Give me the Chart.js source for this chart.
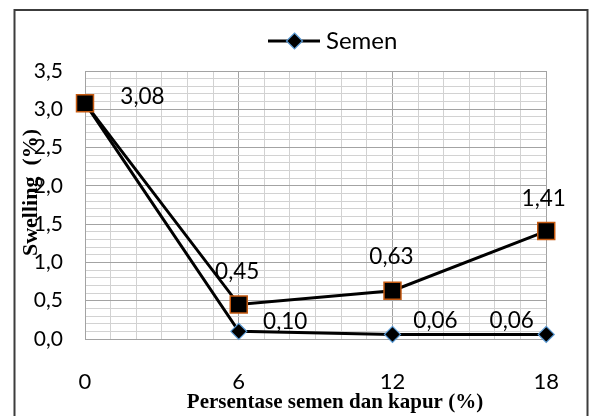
<!DOCTYPE html>
<html>
<head>
<meta charset="utf-8">
<script src="https://cdn.jsdelivr.net/npm/chart.js@4/dist/chart.umd.min.js"></script>
<style>
  html, body { margin: 0; padding: 0; background: #fff; }
  #wrap { width: 589px; height: 416px; position: relative; }
</style>
</head>
<body>
<div id="wrap"><canvas id="chart" width="589" height="416"></canvas></div>
<script>
// Cement / lime content (%) on the x axis
const categories = [0, 6, 12, 18];
// Swelling (%) per mix
const semenValues = [3.08, 0.10, 0.06, 0.06];
const kapurValues = [3.08, 0.45, 0.63, 1.41];
// Axis tick labels
const xTickLabels = ['0', '6', '12', '18'];
const yTickValues = [0, 0.5, 1.0, 1.5, 2.0, 2.5, 3.0, 3.5];
const yTickLabels = ['0,0', '0,5', '1,0', '1,5', '2,0', '2,5', '3,0', '3,5'];

const xTitle = 'Persentase semen dan kapur (%)';
const yTitle = 'Swelling  (%)';

// Where each value label sits relative to its marker (visual centre offset, px)
const labelOffsets = {
  Kapur: [[57.5, -7], [-1.5, -33.5], [-1, -35], [-2.5, -33]],
  Semen: [null, [46.5, -10.5], [43, -14.4], [-34.5, -14.4]]
};

const MAJOR_GRID = '#a3a3a3';
const MINOR_GRID = '#d2d2d2';
const LABEL_FONT = 'Lato';

function toPoints(values) {
  return values.map((v, i) => ({ x: categories[i], y: v }));
}
function isMajorY(v) { return yTickValues.some(t => Math.abs(t - v) < 1e-6); }
function isMajorX(v) { return categories.some(t => Math.abs(t - v) < 1e-6); }

const decor = {
  id: 'decor',
  beforeDraw(chart) {
    const ctx = chart.ctx;
    ctx.save();
    ctx.fillStyle = '#fff';
    ctx.fillRect(0, 0, chart.width, chart.height);
    ctx.restore();
  },
  afterDatasetsDraw(chart) {
    const ctx = chart.ctx;
    ctx.save();
    const size = 22.5;
    ctx.font = size + 'px ' + LABEL_FONT;
    ctx.fillStyle = '#000';
    ctx.textAlign = 'center';
    ctx.textBaseline = 'alphabetic';
    chart.data.datasets.forEach((ds, di) => {
      const meta = chart.getDatasetMeta(di);
      const offs = labelOffsets[ds.label];
      meta.data.forEach((pt, i) => {
        const o = offs && offs[i];
        if (!o) return;
        const txt = ds.data[i].y.toFixed(2).replace('.', ',');
        ctx.fillText(txt, pt.x + o[0], pt.y + o[1] + 0.35 * size);
      });
    });
    ctx.restore();
  },
  afterDraw(chart) {
    const ctx = chart.ctx;
    ctx.save();
    // outer frame
    ctx.strokeStyle = '#3c3c3c';
    ctx.lineWidth = 2;
    ctx.strokeRect(14.5, 10, 573, 420);

    // legend entry
    const ds = chart.data.datasets[0];
    const ly = 41;
    ctx.strokeStyle = '#000';
    ctx.lineWidth = 3;
    ctx.beginPath();
    ctx.moveTo(268, ly);
    ctx.lineTo(320, ly);
    ctx.stroke();
    ctx.beginPath();
    const cx = 294.5, r = 8;
    ctx.moveTo(cx, ly - r);
    ctx.lineTo(cx + r, ly);
    ctx.lineTo(cx, ly + r);
    ctx.lineTo(cx - r, ly);
    ctx.closePath();
    ctx.fillStyle = '#000';
    ctx.fill();
    ctx.strokeStyle = ds.pointBorderColor;
    ctx.lineWidth = 1.2;
    ctx.stroke();
    ctx.fillStyle = '#000';
    ctx.font = '24px ' + LABEL_FONT;
    ctx.textAlign = 'left';
    ctx.textBaseline = 'alphabetic';
    ctx.fillText(ds.label, 326, 49);

    // axis titles
    ctx.font = 'bold 21px "Liberation Serif"';
    ctx.textAlign = 'center';
    ctx.fillText(xTitle, 335, 408);
    ctx.font = 'bold 22px "Liberation Serif"';
    ctx.translate(31, 192.5);
    ctx.rotate(-Math.PI / 2);
    ctx.textBaseline = 'middle';
    ctx.fillText(yTitle, 0, 0);
    ctx.restore();
  }
};

new Chart(document.getElementById('chart'), {
  type: 'line',
  data: {
    datasets: [
      {
        label: 'Semen',
        data: toPoints(semenValues),
        borderColor: '#000',
        borderWidth: 3,
        pointStyle: 'rectRot',
        pointRadius: 8,
        pointBackgroundColor: '#000',
        pointBorderColor: '#5b9bd5',
        pointBorderWidth: 1.2,
        tension: 0,
        clip: false,
        order: 1
      },
      {
        label: 'Kapur',
        data: toPoints(kapurValues),
        borderColor: '#000',
        borderWidth: 3,
        pointStyle: 'rect',
        pointRadius: 12,
        pointBackgroundColor: '#000',
        pointBorderColor: '#c55a11',
        pointBorderWidth: 1.5,
        tension: 0,
        clip: false,
        order: 0
      }
    ]
  },
  options: {
    responsive: false,
    animation: false,
    devicePixelRatio: 1,
    layout: { padding: { top: 71, right: 32, left: 0, bottom: 0 } },
    plugins: {
      legend: { display: false },
      tooltip: { enabled: false }
    },
    scales: {
      x: {
        type: 'linear',
        min: 0,
        max: 18,
        afterFit(scale) { scale.height = 77; },
        ticks: {
          stepSize: 1,
          maxTicksLimit: 100,
          autoSkip: false,
          maxRotation: 0,
          padding: 30,
          color: '#000',
          font: { family: LABEL_FONT, size: 22 },
          callback(v) {
            const i = categories.findIndex(c => Math.abs(c - v) < 1e-6);
            return i >= 0 ? xTickLabels[i] : '';
          }
        },
        grid: {
          drawTicks: false,
          tickLength: 0,
          color: c => isMajorX(c.tick.value) ? MAJOR_GRID : MINOR_GRID
        },
        border: { color: MAJOR_GRID }
      },
      y: {
        min: 0,
        max: 3.5,
        afterFit(scale) { scale.width = 85; },
        ticks: {
          stepSize: 0.1,
          maxTicksLimit: 100,
          autoSkip: false,
          padding: 22,
          color: '#000',
          font: { family: LABEL_FONT, size: 21 },
          callback(v) {
            const i = yTickValues.findIndex(t => Math.abs(t - v) < 1e-6);
            return i >= 0 ? yTickLabels[i] : '';
          }
        },
        grid: {
          drawTicks: false,
          tickLength: 0,
          color: c => isMajorY(c.tick.value) ? MAJOR_GRID : MINOR_GRID
        },
        border: { color: MAJOR_GRID }
      }
    }
  },
  plugins: [decor]
});
</script>
</body>
</html>
